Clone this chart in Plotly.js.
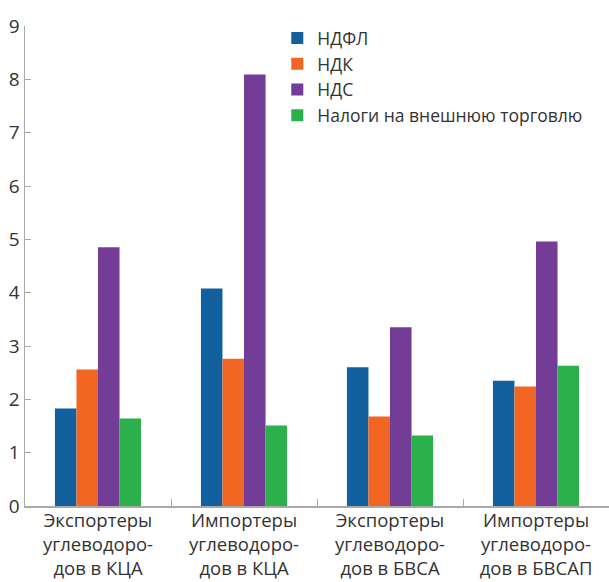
<!DOCTYPE html>
<html>
<head>
<meta charset="utf-8">
<script src="https://cdn.plot.ly/plotly-3.0.1.min.js"></script>
<style>html,body{margin:0;padding:0;background:#fff;}#chart{width:609px;height:582px;}</style>
</head>
<body>
<div id="chart"></div>
<script>
const categories = [
  "Экспортеры<br>углеводоро-<br>дов в КЦА",
  "Импортеры<br>углеводоро-<br>дов в КЦА",
  "Экспортеры<br>углеводоро-<br>дов в БВСА",
  "Импортеры<br>углеводоро-<br>дов в БВСАП"
];
const seriesNames = ["НДФЛ", "НДК", "НДС", "Налоги на внешнюю торговлю"];
const ndfl = [1.83, 4.08, 2.60, 2.35];
const ndk = [2.56, 2.76, 1.68, 2.24];
const nds = [4.85, 8.09, 3.35, 4.96];
const trade = [1.64, 1.51, 1.32, 2.63];
const colors = ["#13609f", "#f26522", "#733c96", "#2cb04b"];
const yTicks = [0,1,2,3,4,5,6,7,8,9];

const seriesValues = [ndfl, ndk, nds, trade];
const traces = seriesValues.map((vals, i) => ({
  type: "bar",
  x: categories,
  y: vals,
  name: seriesNames[i],
  marker: {color: colors[i], line: {width: 0}},
  hoverinfo: "none"
}));

const axisColor = "#a9a9a9";
const font = "'Open Sans', 'Noto Sans', sans-serif";
const layout = {
  width: 609, height: 582,
  margin: {l: 25, r: 0, t: 26, b: 76, pad: 0},
  paper_bgcolor: "#fff", plot_bgcolor: "#fff",
  barmode: "group", bargap: 0.41, bargroupgap: 0,
  showlegend: true,
  font: {family: font, color: "#333", size: 17},
  legend: {
    x: 0.432, y: 1.012, xanchor: "left", yanchor: "top",
    bgcolor: "rgba(0,0,0,0)", font: {size: 17.5, color: "#333", family: font},
    tracegroupgap: 0, itemwidth: 30
  },
  xaxis: {
    type: "category",
    showline: true, linecolor: axisColor, linewidth: 1.5,
    ticks: "inside", tickson: "boundaries", ticklen: 7, tickcolor: axisColor, tickwidth: 1,
    showgrid: false, zeroline: false, ticklabelstandoff: -3,
    tickfont: {size: 18.5, color: "#333", family: font},
    fixedrange: true
  },
  yaxis: {
    range: [0, 9], tickvals: yTicks, ticktext: yTicks.map(String),
    showline: true, linecolor: axisColor, linewidth: 1.5,
    ticks: "inside", ticklen: 6, tickcolor: axisColor, tickwidth: 1,
    showgrid: false, zeroline: false,
    tickfont: {size: 19, color: "#333", family: font},
    fixedrange: true
  },
  yaxis2: {
    overlaying: "y", side: "right", range: [0, 9], tickvals: yTicks,
    showticklabels: false, showline: false, showgrid: false, zeroline: false,
    ticks: "inside", ticklen: 7, tickcolor: axisColor, tickwidth: 1
  }
};
Plotly.newPlot("chart", traces, layout, {staticPlot: true, displayModeBar: false});
</script>
</body>
</html>
